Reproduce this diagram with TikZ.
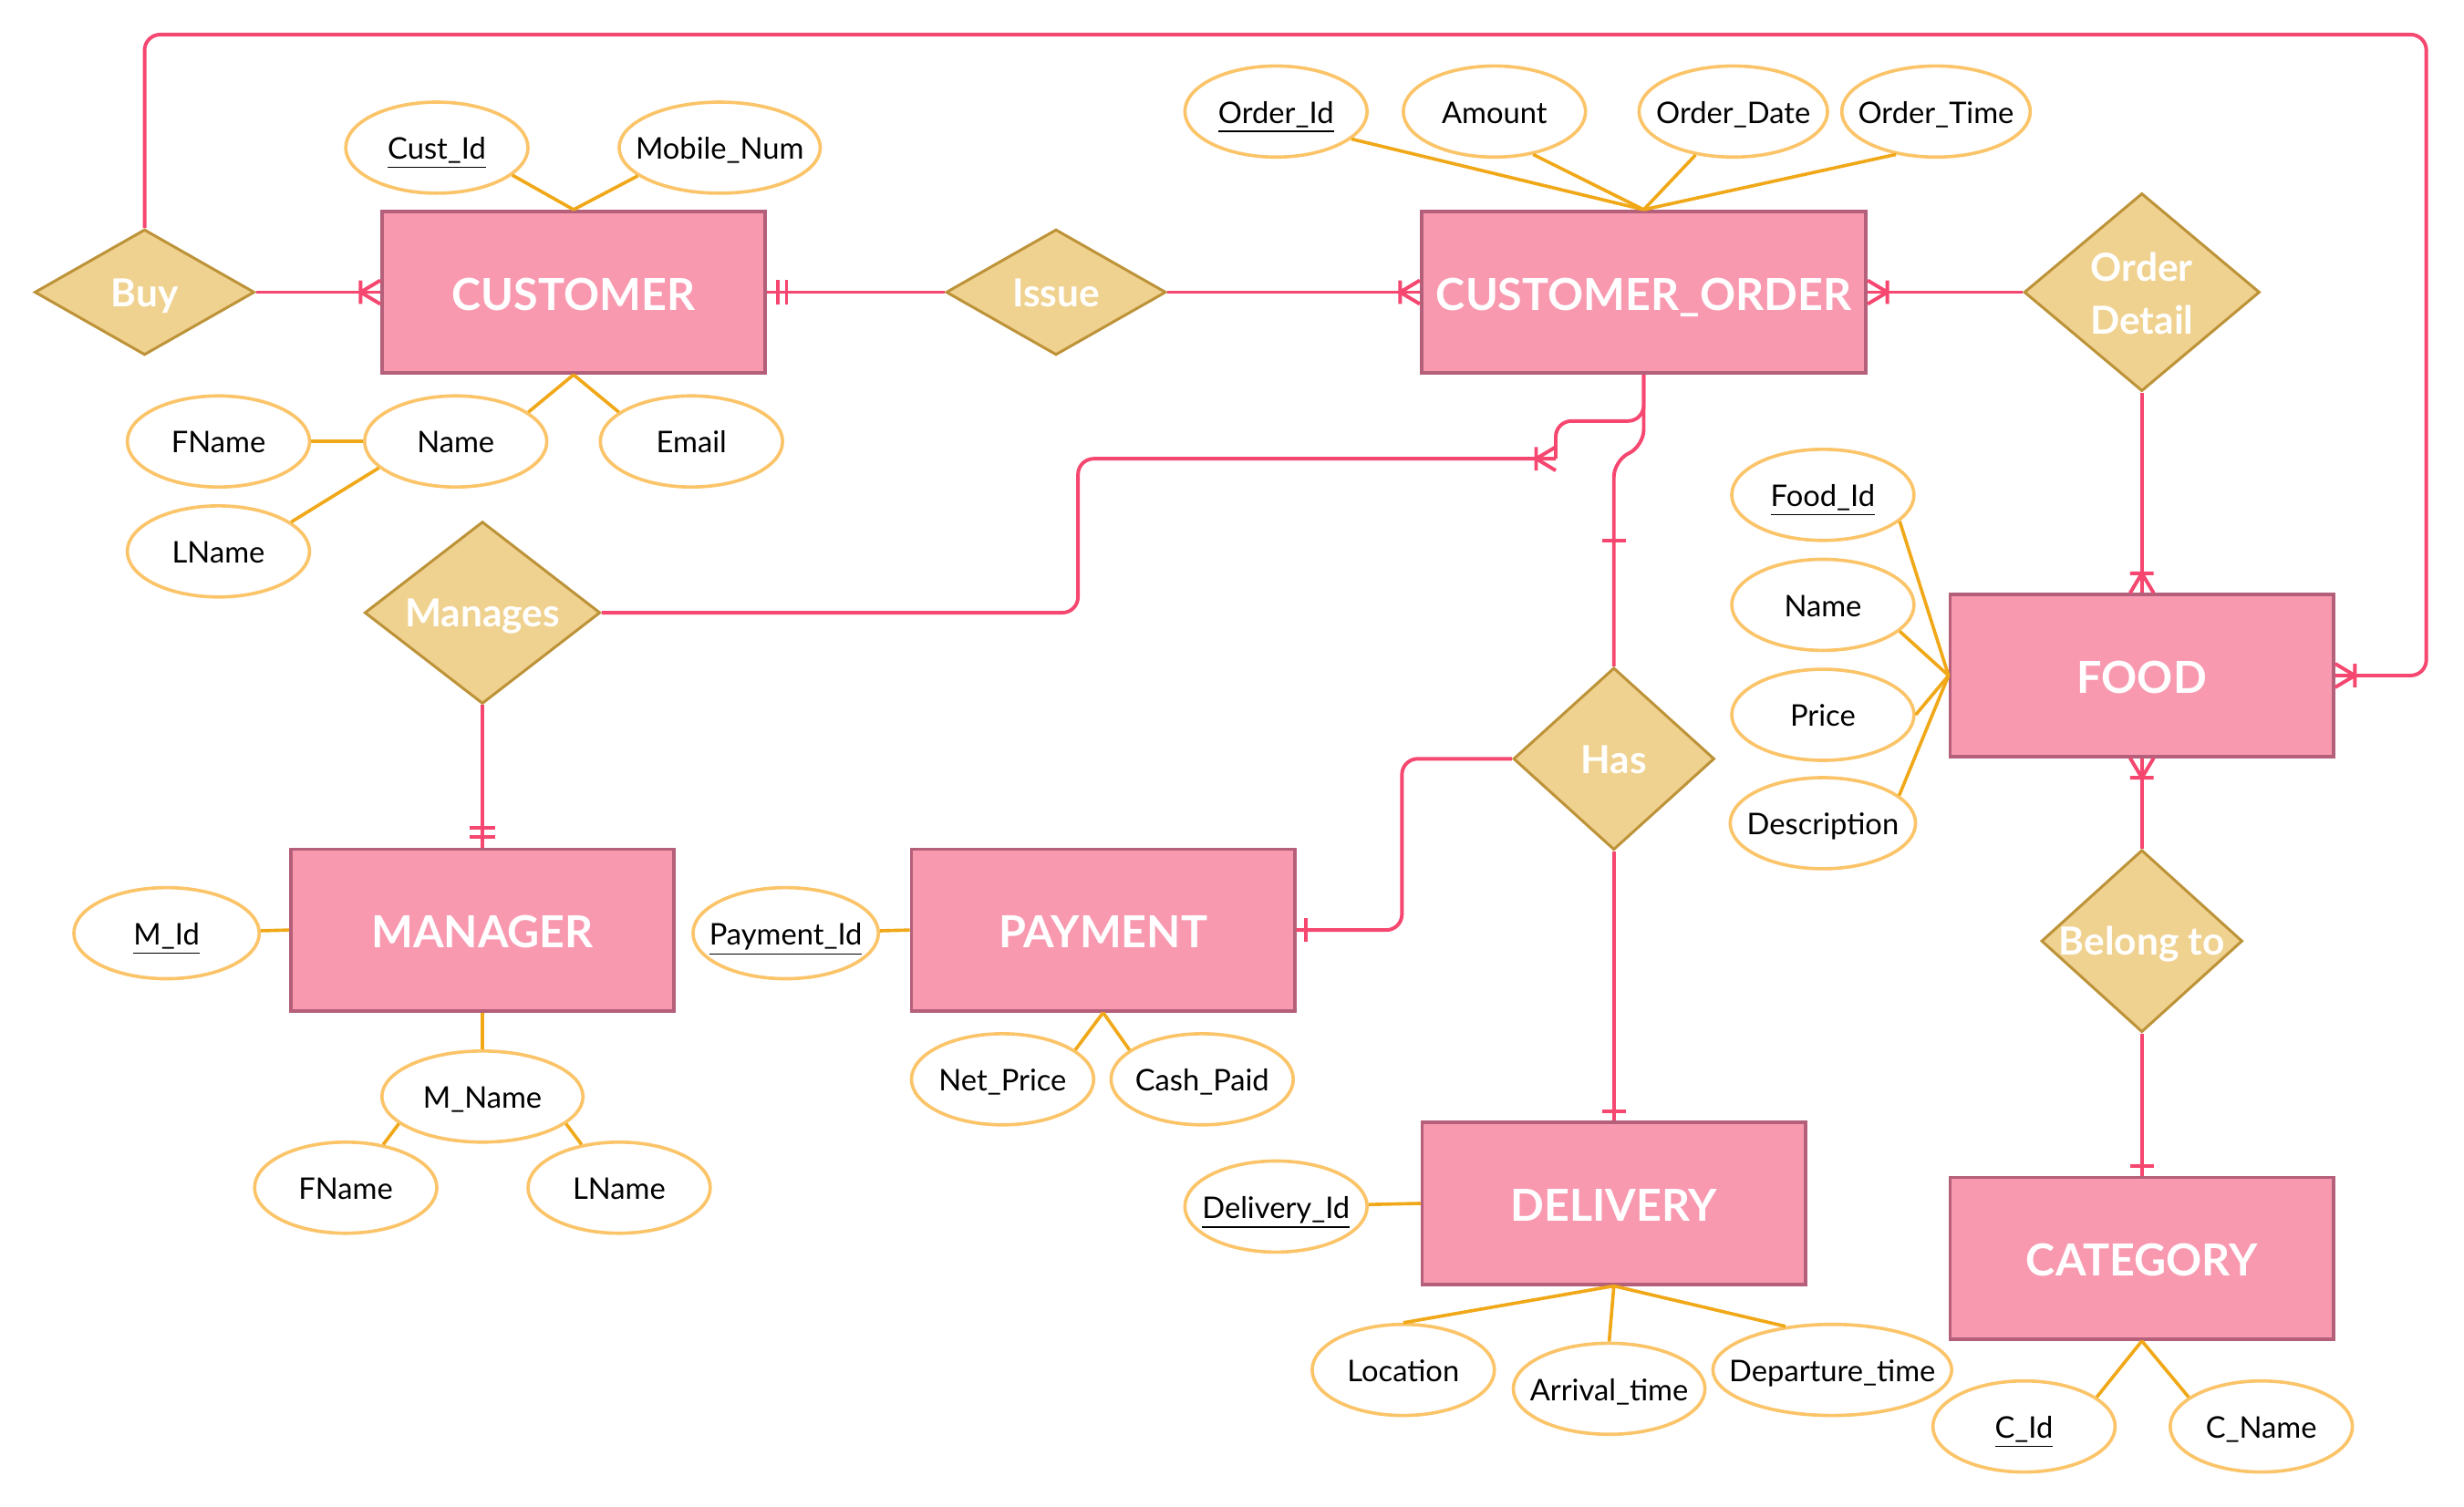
\documentclass[tikz,border=0pt]{standalone}
\usepackage{fontspec}
\setmainfont{Lato}
\usepackage{tikz}
\usetikzlibrary{shapes.geometric,decorations.markings}
\definecolor{entfill}{HTML}{F899B0}
\definecolor{entdraw}{HTML}{B5607A}
\definecolor{relfill}{HTML}{F0D290}
\definecolor{reldraw}{HTML}{BD9339}
\definecolor{attdraw}{HTML}{FBC469}
\definecolor{attstroke}{HTML}{F0A818}
\definecolor{linkred}{HTML}{F5476F}

\tikzset{
    many end/.style={postaction={decorate, decoration={markings, mark=at position 1 with {
        \draw[linkred, line width=1.3pt] (-0.25cm,0pt) -- (0pt,0.15cm) (-0.25cm,0pt) -- (0pt,-0.15cm)
            (-0.25cm,0.15cm) -- (-0.25cm,-0.15cm);}}}},
    one end/.style={postaction={decorate, decoration={markings, mark=at position 1 with {
        \draw[linkred, line width=1.3pt] (-0.12cm,0.15cm) -- (-0.12cm,-0.15cm);}}}},
    onlyone end/.style={postaction={decorate, decoration={markings, mark=at position 1 with {
        \draw[linkred, line width=1.3pt] (-0.14cm,0.16cm) -- (-0.14cm,-0.16cm)
            (-0.25cm,0.16cm) -- (-0.25cm,-0.16cm);}}}},
    midbar/.style={postaction={decorate, decoration={markings, mark=at position #1 with {
        \draw[linkred, line width=1.3pt] (0pt,0.15cm) -- (0pt,-0.15cm);}}}}
}

\begin{document}
\begin{tikzpicture}[
    x=0.02cm, y=-0.02cm,
    squeeze/.style={execute at begin node={\hbox to 0pt\bgroup\hss}, execute at end node={\hss\egroup}},
    entity/.style={rectangle, draw=entdraw, line width=1.2pt, fill=entfill, text=white, inner sep=0pt,
        minimum width=4.88cm, minimum height=2.06cm, text height=13pt, text depth=0pt,
        font=\fontsize{16}{19}\selectfont\bfseries},
    relation/.style={diamond, draw=reldraw, line width=1pt, fill=relfill, text=white, inner sep=0pt,
        font=\fontsize{14}{17}\selectfont\bfseries, squeeze},
    capline/.style={text height=10.4pt, text depth=0pt},
    attribute/.style={ellipse, draw=attdraw, line width=1.2pt, fill=white, inner sep=0pt,
        minimum width=2.32cm, minimum height=1.16cm, text height=8.4pt, text depth=0pt,
        font=\fontsize{10.8}{13}\selectfont, squeeze},
    attr/.style={draw=attstroke, line width=1.2pt},
    link/.style={draw=linkred, line width=1.3pt, rounded corners=0.2cm}
]
\useasboundingbox (0,0) rectangle (1568,959);

% Entities
\node[entity] (customer) at (365,186) {CUSTOMER};
\node[entity, minimum width=5.66cm] (order) at (1046,186) {CUSTOMER\_ORDER};
\node[entity] (food) at (1363,430) {FOOD};
\node[entity] (manager) at (307,592) {MANAGER};
\node[entity] (payment) at (702,592) {PAYMENT};
\node[entity] (delivery) at (1027,766) {DELIVERY};
\node[entity] (category) at (1363,801) {CATEGORY};

% Relationships
\node[relation, capline, minimum width=2.8cm, minimum height=1.6cm] (buy) at (92,186) {Buy};
\node[relation, capline, minimum width=2.8cm, minimum height=1.6cm] (issue) at (672,186) {Issue};
\node[relation, minimum width=3cm, minimum height=2.52cm] (detail) at (1363,186) {\raisebox{-5.8pt}[0pt][0pt]{\begin{tabular}{@{}c@{}}Order\\[2pt]Detail\end{tabular}}};
\node[relation, capline, minimum width=3cm, minimum height=2.32cm] (manages) at (307,390) {Manages};
\node[relation, capline, minimum width=2.56cm, minimum height=2.32cm] (has) at (1027,483) {Has};
\node[relation, capline, minimum width=2.56cm, minimum height=2.32cm] (belong) at (1363,599) {Belong to};

% Customer attributes
\node[attribute] (cuid) at (278,94) {\underline{Cust\_Id}};
\node[attribute, minimum width=2.56cm] (cumobile) at (458,94) {Mobile\_Num};
\node[attribute] (cuname) at (290,281) {Name};
\node[attribute] (cuemail) at (440,281) {Email};
\node[attribute] (cufname) at (139,281) {FName};
\node[attribute] (culname) at (139,351) {LName};

% Order attributes
\node[attribute] (orderid) at (812,71) {\underline{Order\_Id}};
\node[attribute] (amount) at (951,71) {Amount};
\node[attribute, minimum width=2.4cm] (orderdate) at (1103,71) {Order\_Date};
\node[attribute, minimum width=2.4cm] (ordertime) at (1232,71) {Order\_Time};

% Food attributes
\node[attribute] (foodid) at (1160,315) {\underline{Food\_Id}};
\node[attribute] (foodname) at (1160,385) {Name};
\node[attribute] (price) at (1160,455) {Price};
\node[attribute, minimum width=2.36cm] (descr) at (1160,524) {Description};

% Manager attributes
\node[attribute, minimum width=2.36cm] (mid) at (106,594) {\underline{M\_Id}};
\node[attribute, minimum width=2.56cm] (mname) at (307,698) {M\_Name};
\node[attribute] (mfname) at (220,756) {FName};
\node[attribute] (mlname) at (394,756) {LName};

% Payment attributes
\node[attribute, minimum width=2.36cm] (payid) at (500,594) {\underline{Payment\_Id}};
\node[attribute] (netprice) at (638,687) {Net\_Price};
\node[attribute] (cashpaid) at (765,687) {Cash\_Paid};

% Delivery attributes
\node[attribute] (delid) at (812,768) {\underline{Delivery\_Id}};
\node[attribute] (location) at (893,872) {Location};
\node[attribute, minimum width=2.44cm] (arrival) at (1024,884) {Arrival\_time};
\node[attribute, minimum width=3.04cm] (departure) at (1166,872) {Departure\_time};

% Category attributes
\node[attribute] (catid) at (1288,908) {\underline{C\_Id}};
\node[attribute] (catname) at (1439,908) {C\_Name};

% Attribute lines
\draw[attr] (customer.north) -- (cuid.-20);
\draw[attr] (customer.north) -- (cumobile.-161);
\draw[attr] (customer.south) -- (cuname.22);
\draw[attr] (customer.south) -- (cuemail.158);
\draw[attr] (cuname) -- (cufname);
\draw[attr] (cuname.-161) -- (culname.22);
\draw[attr] (order.north) -- (orderid.-20);
\draw[attr] (order.north) -- (amount.-48);
\draw[attr] (order.north) -- (orderdate.-131);
\draw[attr] (order.north) -- (ordertime.-133);
\draw[attr] (food.west) -- (foodid.-19);
\draw[attr] (food.west) -- (foodname.-19);
\draw[attr] (food.west) -- (price.east);
\draw[attr] (food.west) -- (descr.20);
\draw[attr] (manager.west) -- (mid);
\draw[attr] (manager.south) -- (mname);
\draw[attr] (mname.-162) -- (mfname.49);
\draw[attr] (mname.-18) -- (mlname.131);
\draw[attr] (payment.west) -- (payid);
\draw[attr] (payment.south) -- (netprice.22);
\draw[attr] (payment.south) -- (cashpaid.158);
\draw[attr] (delivery.west) -- (delid);
\draw[attr] (delivery.south) -- (location.north);
\draw[attr] (delivery.south) -- (arrival.north);
\draw[attr] (delivery.south) -- (departure.137);
\draw[attr] (category.south) -- (catid.22);
\draw[attr] (category.south) -- (catname.158);

% Relationship links
\draw[link, many end] (buy.east) -- (customer.west);
\draw[link, many end] (buy.north) |- (1544,22) |- (food.east);
\draw[link, onlyone end] (issue.west) -- (customer.east);
\draw[link, many end] (issue.east) -- (order.west);
\draw[link, many end] (detail.west) -- (order.east);
\draw[link, many end] (detail.south) -- (food.north);
\draw[link, many end] (belong.north) -- (food.south);
\draw[link, one end] (belong.south) -- (category.north);
\draw[link, onlyone end] (manages.south) -- (manager.north);
\draw[link, one end] (has.south) -- (delivery.north);
\draw[link, one end] (has.west) -- ++(-70,0) |- (payment.east);

% Order links through the bottom of CUSTOMER_ORDER
\coordinate (mjoin) at (990,292);
\draw[link] (order.south) |- (990,268) -- (mjoin);
\draw[link, many end] (manages.east) -- (686,390) |- (mjoin);
\draw[link, midbar=-1.6cm] (order.south) -- ++(0,45) -- ++(-19,10) -- (has.north);

\end{tikzpicture}
\end{document}
